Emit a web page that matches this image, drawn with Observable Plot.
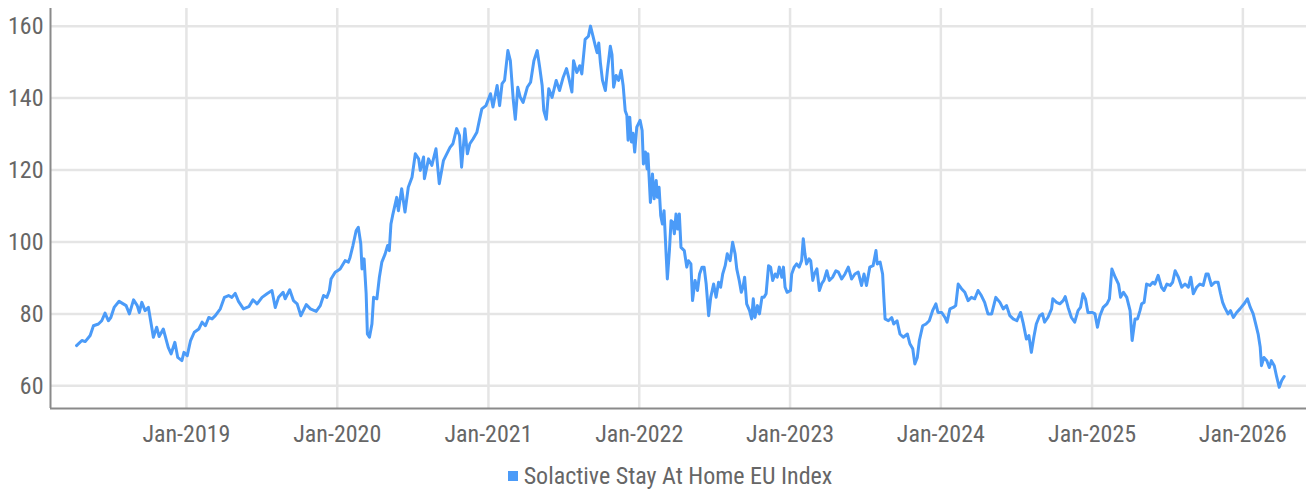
<!DOCTYPE html>
<html>
<head>
<meta charset="utf-8">
<script src="https://cdn.jsdelivr.net/npm/d3@7"></script>
<script src="https://cdn.jsdelivr.net/npm/@observablehq/plot@0.6"></script>
<style>
  html, body { margin: 0; padding: 0; background: #fff; }
  body { font-family: "Liberation Sans Narrow", "Roboto Condensed", "Liberation Sans", sans-serif; width: 1306px; }
  #legend { height: 40px; display: flex; align-items: center; justify-content: center; padding-left: 34px; padding-top: 12px; box-sizing: border-box; font-size: 24px; color: #666; }
  #legend .sw { width: 10px; height: 10px; margin-right: 6px; display: inline-block; }
</style>
</head>
<body>
<div id="chart"></div>
<div id="legend"></div>
<script>
const seriesName = "Solactive Stay At Home EU Index";
const seriesColor = "#4b9bf8";

const dates = [
"2018-04-10","2018-04-23","2018-05-01","2018-05-13","2018-05-21","2018-06-02","2018-06-10","2018-06-18","2018-06-26","2018-07-02",
"2018-07-10","2018-07-22","2018-07-29","2018-08-08","2018-08-16","2018-08-26","2018-09-04","2018-09-09","2018-09-15","2018-09-23",
"2018-10-01","2018-10-09","2018-10-13","2018-10-21","2018-10-27","2018-11-06","2018-11-18","2018-11-25","2018-12-04","2018-12-11",
"2018-12-21","2018-12-26",
"2019-01-03","2019-01-11","2019-01-20","2019-01-31","2019-02-08","2019-02-16","2019-02-24","2019-03-04","2019-03-12","2019-03-24",
"2019-04-03","2019-04-13","2019-04-21","2019-04-29","2019-05-07","2019-05-19","2019-06-01","2019-06-11","2019-06-21","2019-07-03",
"2019-07-15","2019-07-27","2019-08-04","2019-08-12","2019-08-23","2019-08-28","2019-09-08","2019-09-17","2019-09-26","2019-10-05",
"2019-10-18","2019-10-28","2019-11-11","2019-11-21","2019-11-29","2019-12-07","2019-12-13","2019-12-17","2019-12-27",
"2020-01-08","2020-01-20","2020-01-28","2020-02-01","2020-02-08","2020-02-16","2020-02-21","2020-02-27","2020-03-01","2020-03-06",
"2020-03-11","2020-03-14","2020-03-19","2020-03-25","2020-03-29","2020-04-06","2020-04-12","2020-04-18","2020-04-26","2020-05-02",
"2020-05-06","2020-05-10","2020-05-14","2020-05-24","2020-05-28","2020-06-05","2020-06-13","2020-06-21","2020-06-30","2020-07-08",
"2020-07-16","2020-07-20","2020-07-28","2020-07-30","2020-08-09","2020-08-17","2020-08-27","2020-09-04","2020-09-14","2020-09-30",
"2020-10-07","2020-10-16","2020-10-23","2020-10-28","2020-11-05","2020-11-11","2020-11-17","2020-11-25","2020-12-04","2020-12-10",
"2020-12-16","2020-12-26",
"2021-01-06","2021-01-12","2021-01-22","2021-01-28","2021-02-03","2021-02-09","2021-02-17","2021-02-23","2021-03-02","2021-03-07",
"2021-03-13","2021-03-19","2021-03-26","2021-04-05","2021-04-13","2021-04-21","2021-04-29","2021-05-05","2021-05-11","2021-05-15",
"2021-05-21","2021-05-27","2021-06-04","2021-06-14","2021-06-22","2021-07-01","2021-07-09","2021-07-14","2021-07-22","2021-07-26",
"2021-08-03","2021-08-10","2021-08-15","2021-08-23","2021-08-31","2021-09-05","2021-09-11","2021-09-17","2021-09-21","2021-09-25",
"2021-09-29","2021-10-04","2021-10-11","2021-10-16","2021-10-23","2021-10-27","2021-10-31","2021-11-06","2021-11-12","2021-11-18",
"2021-11-23","2021-11-28","2021-12-02","2021-12-05","2021-12-09","2021-12-13","2021-12-17","2021-12-21","2021-12-26",
"2022-01-03","2022-01-08","2022-01-11","2022-01-16","2022-01-20","2022-01-22","2022-01-28","2022-02-02","2022-02-06","2022-02-11",
"2022-02-14","2022-02-18","2022-02-22","2022-02-26","2022-03-02","2022-03-07","2022-03-10","2022-03-15","2022-03-19","2022-03-23",
"2022-03-27","2022-03-31","2022-04-04","2022-04-08","2022-04-12","2022-04-20","2022-04-26","2022-04-30","2022-05-06","2022-05-10",
"2022-05-16","2022-05-22","2022-05-27","2022-06-02","2022-06-07","2022-06-12","2022-06-18","2022-06-23","2022-06-30","2022-07-06",
"2022-07-12","2022-07-17","2022-07-22","2022-07-28","2022-08-02","2022-08-09","2022-08-15","2022-08-21","2022-08-25","2022-08-31",
"2022-09-05","2022-09-09","2022-09-13","2022-09-18","2022-09-25","2022-09-30","2022-10-04","2022-10-08","2022-10-14","2022-10-19",
"2022-10-25","2022-10-30","2022-11-04","2022-11-10","2022-11-15","2022-11-20","2022-11-26","2022-12-01","2022-12-06","2022-12-12",
"2022-12-16","2022-12-20","2022-12-25",
"2023-01-02","2023-01-05","2023-01-11","2023-01-17","2023-01-23","2023-01-29","2023-02-02","2023-02-06","2023-02-10","2023-02-16",
"2023-02-20","2023-02-25","2023-03-01","2023-03-07","2023-03-13","2023-03-19","2023-03-24","2023-03-31","2023-04-06","2023-04-14",
"2023-04-22","2023-04-28","2023-05-06","2023-05-14","2023-05-22","2023-05-30","2023-06-07","2023-06-15","2023-06-23","2023-06-29",
"2023-07-05","2023-07-13","2023-07-21","2023-07-28","2023-07-31","2023-08-07","2023-08-13","2023-08-16","2023-08-19","2023-08-27",
"2023-09-04","2023-09-09","2023-09-17","2023-09-24","2023-10-02","2023-10-12","2023-10-18","2023-10-25","2023-10-30","2023-11-05",
"2023-11-10","2023-11-18","2023-11-26","2023-12-04","2023-12-12","2023-12-20","2023-12-25",
"2024-01-03","2024-01-11","2024-01-16","2024-01-23","2024-01-31","2024-02-06","2024-02-12","2024-02-20","2024-02-28","2024-03-07",
"2024-03-15","2024-03-23","2024-03-31","2024-04-08","2024-04-16","2024-04-24","2024-05-03","2024-05-13","2024-05-23","2024-05-31",
"2024-06-08","2024-06-16","2024-06-24","2024-07-03","2024-07-12","2024-07-18","2024-07-26","2024-08-01","2024-08-07","2024-08-13",
"2024-08-19","2024-08-27","2024-09-03","2024-09-08","2024-09-16","2024-09-25","2024-09-28","2024-10-07","2024-10-15","2024-10-23",
"2024-10-28","2024-11-04","2024-11-12","2024-11-20","2024-11-28","2024-12-04","2024-12-10","2024-12-16","2024-12-22",
"2025-01-02","2025-01-08","2025-01-14","2025-01-20","2025-01-28","2025-02-06","2025-02-12","2025-02-18","2025-02-26","2025-03-06",
"2025-03-11","2025-03-18","2025-03-26","2025-04-03","2025-04-08","2025-04-15","2025-04-21","2025-04-27","2025-05-01","2025-05-07",
"2025-05-13","2025-05-21","2025-05-28","2025-06-02","2025-06-10","2025-06-18","2025-06-24","2025-07-01","2025-07-09","2025-07-15",
"2025-07-21","2025-07-29","2025-08-06","2025-08-14","2025-08-22","2025-08-28","2025-09-03","2025-09-11","2025-09-19","2025-09-27",
"2025-10-04","2025-10-09","2025-10-17","2025-10-25","2025-11-02","2025-11-08","2025-11-13","2025-11-18","2025-11-26","2025-12-02",
"2025-12-09","2025-12-17","2025-12-25",
"2026-01-04","2026-01-12","2026-01-19","2026-01-26","2026-02-01","2026-02-07","2026-02-12","2026-02-15","2026-02-21","2026-02-28",
"2026-03-06","2026-03-11","2026-03-18","2026-03-24","2026-03-30","2026-04-05","2026-04-11"
];

const values = [
71.2,72.6,72.3,74.0,76.7,77.2,78.1,80.2,78.1,79.0,
81.8,83.5,83.0,82.3,80.0,83.9,82.3,80.4,83.2,80.9,
81.8,76.3,73.5,76.3,73.7,75.8,70.7,68.9,72.1,67.9,
67.0,69.3,
68.4,72.6,74.9,75.8,77.7,76.7,79.0,78.6,79.5,81.4,
84.6,85.1,84.6,85.7,83.5,81.4,82.0,83.9,82.8,84.6,
85.6,86.5,81.8,84.6,86.0,84.2,86.7,83.7,82.8,79.5,
82.6,81.4,80.7,82.3,85.1,84.6,86.5,89.7,91.6,
92.5,94.8,94.4,95.7,99.0,103.2,104.1,99.5,92.5,95.3,
85.6,74.4,73.5,77.2,84.6,84.2,90.2,94.4,96.7,99.0,
97.6,105.0,107.3,112.4,108.7,114.8,108.3,115.2,118.0,124.5,
123.1,119.9,123.6,117.6,123.1,121.3,125.9,116.2,122.6,126.3,
127.3,131.5,129.6,120.8,131.5,124.5,127.3,128.7,130.5,133.8,
137.0,137.9,
141.2,137.5,143.5,137.9,144.0,144.9,153.2,150.4,139.6,134.1,
143.0,140.2,138.8,143.0,144.4,150.4,153.2,148.6,143.5,136.5,
134.1,142.6,140.2,144.9,142.1,145.8,148.2,145.8,141.7,150.4,
147.1,149.0,146.7,156.3,157.2,160.0,157.2,154.4,152.6,155.3,
149.8,144.9,142.1,147.7,154.4,152.1,143.0,146.3,144.9,147.7,
143.5,136.5,135.2,128.3,134.7,127.8,130.2,125.0,131.9,
133.8,131.0,121.7,125.0,120.3,124.5,111.0,118.9,112.0,117.1,
112.4,115.2,107.3,105.0,108.7,96.7,89.7,97.6,105.9,105.5,
102.3,107.8,103.6,107.8,98.5,97.6,93.0,94.8,93.9,83.7,
89.3,86.5,91.1,93.0,93.0,88.3,79.5,84.6,88.3,84.6,
88.8,87.4,91.1,93.4,96.7,94.8,99.9,96.7,92.5,89.3,
86.0,87.4,90.2,82.8,80.9,78.6,84.2,79.0,82.3,80.0,
84.6,84.6,85.6,93.4,93.0,89.3,91.1,90.2,93.0,90.2,
93.0,87.4,86.0,
86.5,91.1,93.0,93.9,93.0,94.8,100.9,96.7,93.9,95.3,
94.8,89.3,91.1,92.5,86.5,88.5,89.3,92.0,89.3,90.2,
92.0,91.6,89.7,91.1,93.0,89.7,91.1,91.6,87.9,91.1,
87.9,93.0,93.4,97.6,93.9,94.4,91.1,84.6,78.6,78.1,
79.0,77.2,78.1,74.4,73.5,74.4,71.7,70.3,66.1,67.9,
72.6,76.7,77.2,78.1,80.9,82.8,80.4,
80.4,79.0,77.7,81.4,81.8,82.3,88.3,87.0,86.0,83.7,
84.6,84.2,86.5,85.1,83.2,80.0,80.0,84.6,83.2,81.4,
82.3,79.5,78.6,78.1,80.4,77.6,73.0,74.0,69.3,73.5,
77.2,79.5,80.0,77.7,79.0,81.4,84.2,83.2,82.8,83.7,
84.8,81.8,79.0,77.7,80.9,81.8,85.6,84.2,80.4,
80.4,80.0,76.3,79.5,81.8,82.8,84.2,92.5,90.2,88.3,
84.6,86.0,84.6,80.9,72.6,78.6,78.6,80.9,82.8,83.2,
88.3,87.9,88.8,88.3,90.7,87.4,86.5,88.3,87.9,88.8,
92.0,90.2,87.4,88.3,87.4,90.2,85.6,87.4,88.3,87.9,
91.1,91.1,87.9,88.8,88.8,85.6,83.2,81.8,80.0,80.9,
79.0,80.4,81.4,
82.8,84.2,81.8,80.0,77.2,74.4,70.7,65.6,67.9,67.0,
65.1,67.0,65.6,62.4,59.6,61.5,62.6
];

const yTicks = [60, 80, 100, 120, 140, 160];
const xTickDates = ["2019-01-01","2020-01-01","2021-01-01","2022-01-01","2023-01-01","2024-01-01","2025-01-01","2026-01-01"];
const xDomain = ["2018-02-06", "2026-06-04"];
const yDomain = [53.7, 164.9];

const data = dates.map((d, i) => ({date: new Date(d + "T00:00:00Z"), value: values[i]}));
const xTicks = xTickDates.map(d => new Date(d + "T00:00:00Z"));
const xDom = xDomain.map(d => new Date(d + "T00:00:00Z"));

const font = '"Liberation Sans Narrow", "Roboto Condensed", "Liberation Sans", sans-serif';

const chart = Plot.plot({
  width: 1306,
  height: 450,
  marginTop: 8,
  marginBottom: 42,
  marginLeft: 50,
  marginRight: 0,
  style: {fontFamily: font, fontSize: "24px", color: "#666", background: "#fff", overflow: "visible"},
  x: {type: "utc", domain: xDom},
  y: {domain: yDomain},
  marks: [
    Plot.gridY(yTicks, {stroke: "#e5e5e5", strokeOpacity: 1, strokeWidth: 2.5}),
    Plot.gridX(xTicks, {stroke: "#e5e5e5", strokeOpacity: 1, strokeWidth: 2.5}),
    Plot.lineY(data, {x: "date", y: "value", stroke: seriesColor, strokeWidth: 3, strokeLinejoin: "round"}),
    Plot.ruleX([xDom[0]], {stroke: "#8a8a8a", strokeWidth: 2}),
    Plot.ruleY([yDomain[0]], {stroke: "#8a8a8a", strokeWidth: 2}),
    Plot.axisY(yTicks, {tickSize: 0, tickPadding: 7, fill: "#666", fontSize: 24, label: null}),
    Plot.axisX(xTicks, {tickSize: 0, tickPadding: 16, fill: "#666", fontSize: 24, label: null, tickFormat: d3.utcFormat("%b-%Y")})
  ]
});
document.getElementById("chart").appendChild(chart);

const legend = document.getElementById("legend");
const sw = document.createElement("span");
sw.className = "sw";
sw.style.background = seriesColor;
legend.appendChild(sw);
const lt = document.createElement("span");
lt.textContent = seriesName;
legend.appendChild(lt);
</script>
</body>
</html>
